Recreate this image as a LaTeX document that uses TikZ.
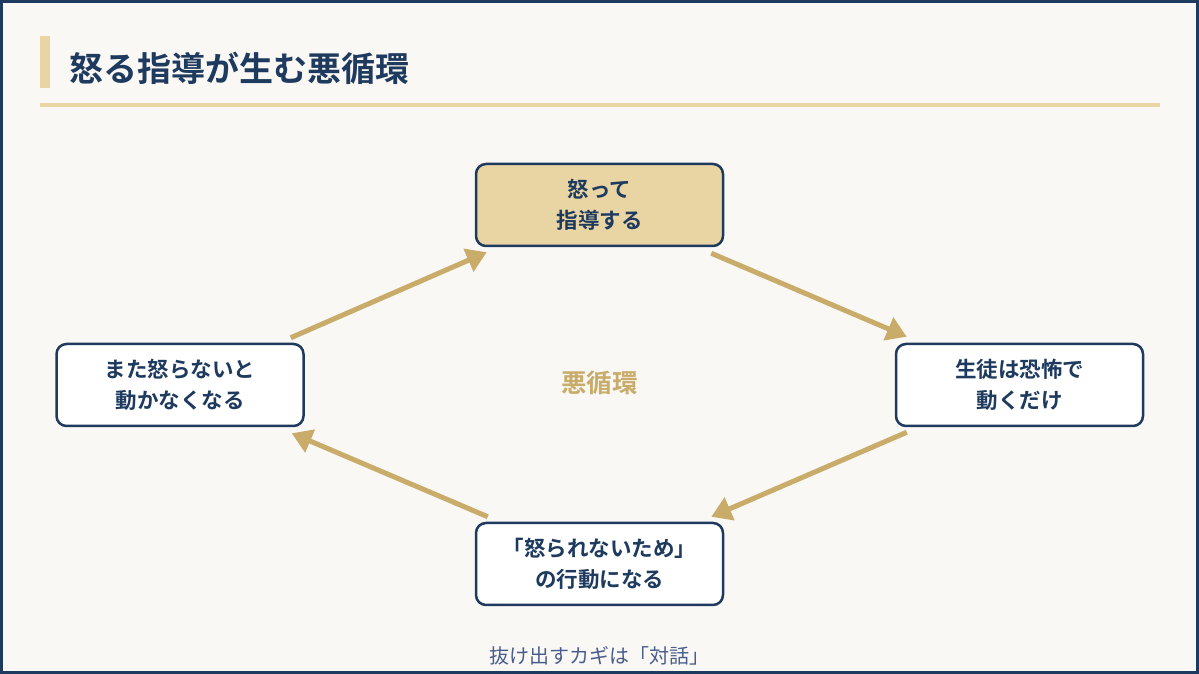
\documentclass[tikz,border=0pt]{standalone}
\usepackage{fontspec}
\setmainfont{Noto Sans CJK JP}
\newfontfamily\jpbold{Noto Sans CJK JP Bold}
\usetikzlibrary{arrows.meta}
\definecolor{navy}{HTML}{1E3A5F}
\definecolor{sand}{HTML}{E8D5A3}
\definecolor{gold}{HTML}{C9AB6A}
\definecolor{paper}{HTML}{FAF8F4}
\begin{document}
\begin{tikzpicture}[x=1pt,y=1pt,
  stepbox/.style={draw=navy,line width=2.5pt,rounded corners=10pt,fill=white,
    minimum width=247pt,minimum height=82pt,align=center,text=navy,
    font=\jpbold\fontsize{21.5}{31}\selectfont},
  flow/.style={draw=gold,line width=5pt,-{Triangle[length=20pt,width=24pt]}}]
\useasboundingbox (0,0) rectangle (1199,674);
\fill[paper] (0,0) rectangle (1199,674);
\draw[navy,line width=3pt] (1.5,1.5) rectangle (1197.5,672.5);
% title
\fill[sand] (40,586) rectangle (50,638);
\node[anchor=west,text=navy,font=\jpbold\fontsize{34}{40}\selectfont] (title) at (66,606) {怒る指導が生む悪循環};
\fill[sand] (40,567) rectangle (1160,570.5);
% cycle
\node[stepbox,fill=sand] (anger) at (599.5,469) {怒って\\指導する};
\node[stepbox] (fear) at (1019.5,289) {生徒は恐怖で\\動くだけ};
\node[stepbox] (avoid) at (599.5,110) {「怒られないため」\\の行動になる};
\node[stepbox] (still) at (180,289) {また怒らないと\\動かなくなる};
\node[text=gold,font=\jpbold\fontsize{25.5}{30}\selectfont] (loop) at (599.5,291) {悪循環};
\draw[flow] ([xshift=-13pt,yshift=-6pt]anger.south east) -- ([xshift=12pt,yshift=6pt]fear.north west);
\draw[flow] ([xshift=12pt,yshift=-5pt]fear.south west) -- ([xshift=-13pt,yshift=5pt]avoid.north east);
\draw[flow] ([xshift=13pt,yshift=5pt]avoid.north west) -- ([xshift=-13pt,yshift=-6pt]still.south east);
\draw[flow] ([xshift=-14pt,yshift=5pt]still.north east) -- ([xshift=12pt,yshift=-5pt]anger.south west);
% footer
\node[text=navy!90!blue!80,font=\fontsize{20}{24}\selectfont] (key) at (599.5,18) {抜け出すカギは「対話」};
\end{tikzpicture}
\end{document}
